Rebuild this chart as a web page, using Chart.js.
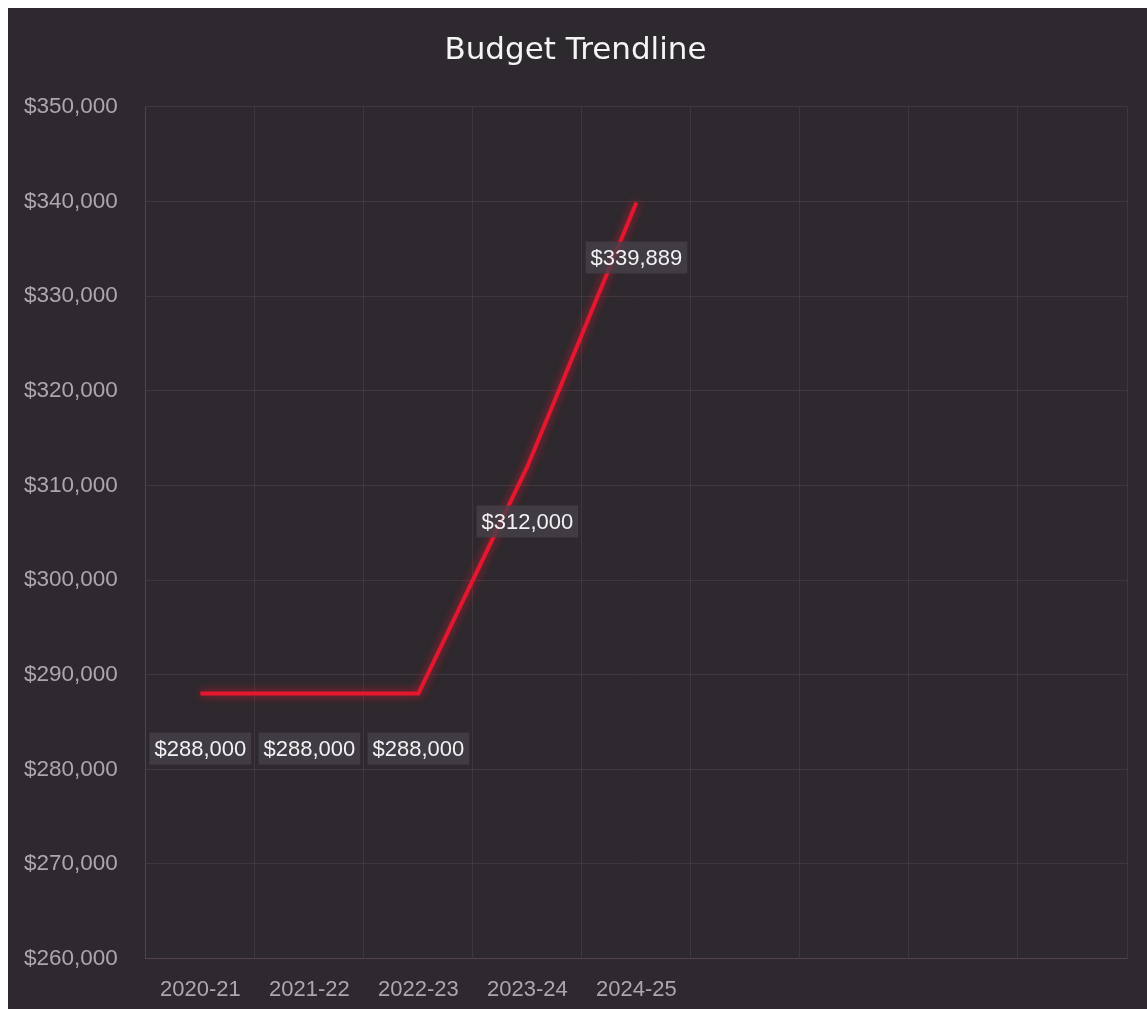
<!DOCTYPE html>
<html>
<head>
<meta charset="utf-8">
<script src="https://cdn.jsdelivr.net/npm/chart.js@4.4.1/dist/chart.umd.min.js"></script>
<style>
  html, body { margin: 0; padding: 0; background: #ffffff; }
  #wrap { position: absolute; left: 8px; top: 8px; width: 1139px; height: 1001px; background: #2d292e; }
  canvas { display: block; }
</style>
</head>
<body>
<div id="wrap"><canvas id="c" width="1139" height="1001"></canvas></div>
<script>
const categories = ["2020-21", "2021-22", "2022-23", "2023-24", "2024-25", "", "", "", ""];
const budgetValues = [288000, 288000, 288000, 312000, 339889];
const yMin = 260000;
const yMax = 350000;
const yStep = 10000;

function money(v) { return '$' + Number(v).toLocaleString('en-US'); }

const glowPlugin = {
  id: 'glow',
  beforeDatasetDraw(chart) {
    const ctx = chart.ctx;
    ctx.save();
    ctx.shadowColor = 'rgba(255,20,50,0.75)';
    ctx.shadowBlur = 10;
  },
  afterDatasetDraw(chart) { chart.ctx.restore(); }
};

const labelPlugin = {
  id: 'valueLabels',
  afterDatasetsDraw(chart) {
    const ctx = chart.ctx;
    const meta = chart.getDatasetMeta(0);
    const ds = chart.data.datasets[0];
    ctx.save();
    ctx.font = '22px "Liberation Sans", Arial, sans-serif';
    ctx.textAlign = 'center';
    ctx.textBaseline = 'middle';
    meta.data.forEach((pt, i) => {
      const v = ds.data[i];
      if (v == null) return;
      const txt = money(v);
      const w = ctx.measureText(txt).width;
      const cx = pt.x, cy = pt.y + 55;
      ctx.fillStyle = 'rgba(70,64,72,0.8)';
      ctx.fillRect(cx - w / 2 - 5, cy - 16, w + 10, 32);
      ctx.fillStyle = '#f2f2f2';
      ctx.fillText(txt, cx, cy + 1);
    });
    ctx.restore();
  }
};

new Chart(document.getElementById('c'), {
  type: 'line',
  data: {
    labels: categories,
    datasets: [{
      label: 'Budget',
      data: budgetValues,
      borderColor: '#e5172f',
      borderWidth: 4,
      pointRadius: 0,
      pointHoverRadius: 0,
      tension: 0,
      fill: false
    }]
  },
  options: {
    responsive: false,
    animation: false,
    devicePixelRatio: 1,
    layout: { padding: { left: 16, right: 20, top: 0, bottom: 6 } },
    plugins: {
      legend: { display: false },
      tooltip: { enabled: false },
      title: {
        display: true,
        text: 'Budget Trendline',
        color: '#f4f4f4',
        font: { family: '"DejaVu Sans"', size: 31, weight: 'normal' },
        padding: { top: 24, bottom: 37.6 }
      }
    },
    scales: {
      x: {
        offset: true,
        grid: { offset: true, color: 'rgba(150,110,130,0.2)', lineWidth: 1, drawTicks: false },
        border: { color: 'rgba(150,110,130,0.2)' },
        ticks: { color: '#aca7ad', font: { family: '"Liberation Sans", Arial, sans-serif', size: 22 }, padding: 18, maxRotation: 0, autoSkip: false },
        afterFit: (s) => { s.height -= 18; }
      },
      y: {
        min: yMin,
        max: yMax,
        grid: { color: 'rgba(150,110,130,0.2)', lineWidth: 1, drawTicks: false },
        border: { color: 'rgba(150,110,130,0.2)' },
        ticks: {
          stepSize: yStep,
          color: '#aca7ad',
          font: { family: '"Liberation Sans", Arial, sans-serif', size: 22.5 },
          padding: 28,
          callback: (v) => money(v)
        },
        afterFit: (s) => { s.width -= 28; }
      }
    }
  },
  plugins: [glowPlugin, labelPlugin]
});
</script>
</body>
</html>
